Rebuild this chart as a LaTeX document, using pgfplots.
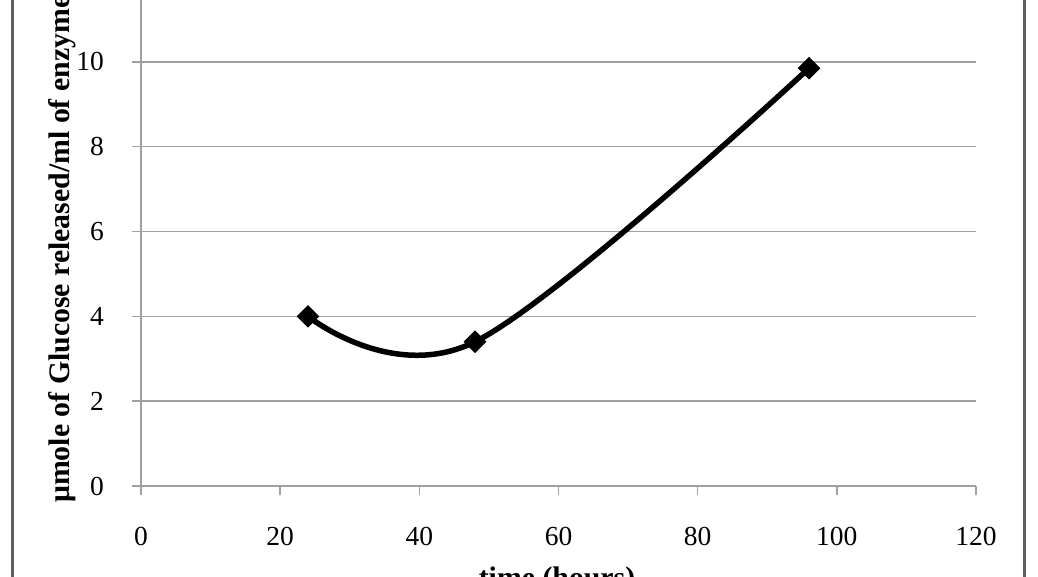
\documentclass[border=0pt]{standalone}
\usepackage{fontspec}
\setmainfont{Liberation Serif}
\usepackage{pgfplots}
\pgfplotsset{compat=1.18}
\definecolor{gridgray}{RGB}{160,160,160}
\definecolor{framegray}{RGB}{95,95,95}
\begin{document}
\begin{tikzpicture}[x=1pt,y=1pt]
\useasboundingbox (0,0) rectangle (1038,576);
\clip (0,0) rectangle (1038,576);
% outer chart frame (top and bottom are cropped away)
\draw[framegray, line width=3pt] (12,-20) rectangle (1024,600);
\begin{axis}[
  at={(141pt,90pt)}, anchor=south west,
  scale only axis, width=835pt, height=509pt,
  xmin=0, xmax=120, ymin=0, ymax=12,
  xtick={0,20,...,120}, ytick={0,2,...,12},
  axis x line*=bottom, axis y line*=left,
  axis line style={gridgray, line width=1.5pt},
  tick style={gridgray, line width=1.5pt},
  tick align=outside, major tick length=9pt,
  ymajorgrids, grid style={gridgray, line width=1.5pt},
  ticklabel style={font=\fontsize{27.5}{30}\selectfont},
  /pgf/number format/assume math mode=true,
  xticklabel style={anchor=north, inner sep=0pt, yshift=-32pt},
  yticklabel style={anchor=east, inner sep=0pt, xshift=-28pt},
  clip=false,
]
\addplot[black, line width=5.5pt, smooth, tension=0.6, mark=square*, mark size=7.5pt,
  mark options={rotate=45, solid, line width=1pt}]
  coordinates {(24,4.0) (48,3.4) (96,9.85)};
\end{axis}
\node[rotate=90, anchor=base west, inner sep=0pt,
  font=\bfseries\fontsize{29.8}{32}\selectfont] at (69,73)
  {μmole of Glucose released/ml of enzyme};
\node[anchor=base, inner sep=0pt,
  font=\bfseries\fontsize{29.8}{32}\selectfont] at (557,-11) {time (hours)};
\end{tikzpicture}
\end{document}
